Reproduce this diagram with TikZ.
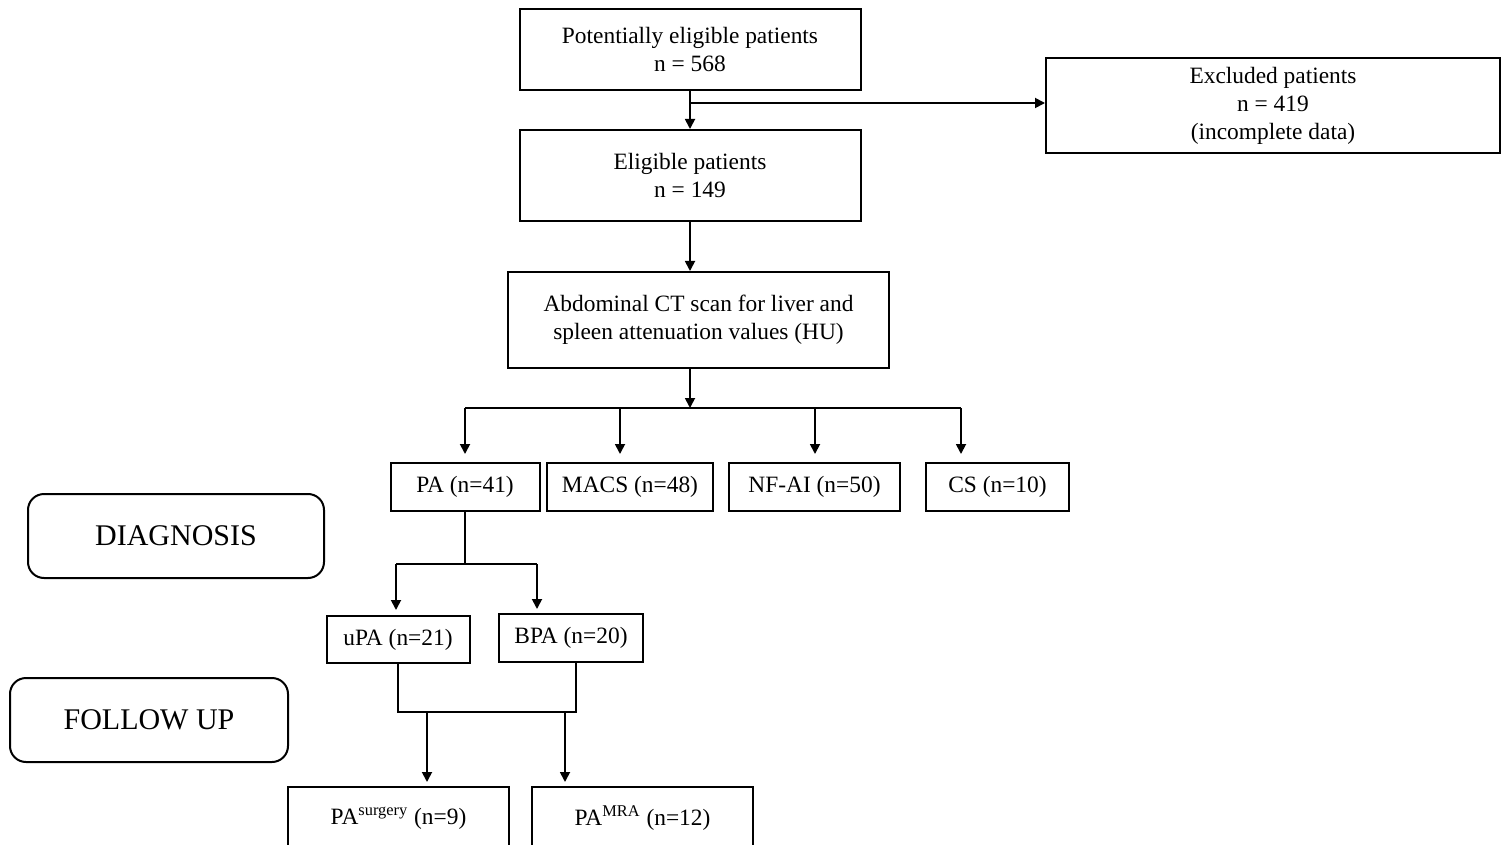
\documentclass[tikz,border=0pt]{standalone}
\usepackage{fontspec}
\setmainfont{Liberation Serif}
\usetikzlibrary{arrows.meta}

\begin{document}
\begin{tikzpicture}[
		x=0.5pt,
		y=-0.5pt,
		line/.style={line width=0.9pt},
		arr/.style={
			line width=0.9pt,
			-{Triangle[length=5pt,width=5pt]},
		},
		box/.style={
			shape=rectangle,
			draw,
			line width=1pt,
			inner sep=0pt,
			align=center,
			font=\fontsize{11.7}{14}\selectfont,
		},
		phase/.style={
			box,
			rounded corners=8pt,
			font=\fontsize{15}{18}\selectfont,
			minimum height=42pt,
		},
	]
		\clip (0,0) rectangle (1509,845);

		% main flow
		\node[box, minimum width=170.5pt, minimum height=40.5pt] (pot) at (690,49.5)
			{Potentially eligible patients\\n = 568};
		\node[box, minimum width=227pt, minimum height=47.5pt] (excl) at (1273,105.5)
			{Excluded patients\\n = 419\\(incomplete data)};
		\node[box, minimum width=170.5pt, minimum height=45.5pt] (elig) at (690,175.5)
			{Eligible patients\\n = 149};
		\node[box, minimum width=190.5pt, minimum height=48pt] (ct) at (698.5,320)
			{Abdominal CT scan for liver and\\spleen attenuation values (HU)};

		% diagnosis groups
		\node[box, minimum width=74.5pt, minimum height=24pt] (pa) at (465,487) {PA (n=41)};
		\node[box, minimum width=83pt, minimum height=24pt] (macs) at (630,487) {MACS (n=48)};
		\node[box, minimum width=85.5pt, minimum height=24pt] (nfai) at (814.5,487) {NF-AI (n=50)};
		\node[box, minimum width=71.5pt, minimum height=24pt] (cs) at (997.5,487) {CS (n=10)};

		\node[box, minimum width=71.5pt, minimum height=23.5pt] (upa) at (398,639.5) {uPA (n=21)};
		\node[box, minimum width=72pt, minimum height=24pt] (bpa) at (571,638) {BPA (n=20)};

		% follow up
		\node[box, minimum width=110.5pt, minimum height=31pt] (psur) at (398.5,818)
			{PA\textsuperscript{surgery} (n=9)};
		\node[box, minimum width=110.5pt, minimum height=31pt] (pmra) at (642.5,818)
			{PA\textsuperscript{MRA} (n=12)};

		% phase labels
		\node[phase, minimum width=148pt] (diag) at (176,536) {DIAGNOSIS};
		\node[phase, minimum width=139pt] (fup) at (149,720) {FOLLOW UP};

		% connectors
		\coordinate (split) at (690,103);
		\draw[arr] (pot) -- (elig);
		\draw[arr] (split) -- (excl.west |- split);
		\draw[arr] (elig.south) -- (elig.south |- ct.north);

		\coordinate (hub) at (690,408);
		\coordinate (hubL) at (465,408);
		\coordinate (hubR) at (961,408);
		\draw[arr] (ct.south -| hub) -- (hub);
		\draw[line] (hubL) -- (hubR);
		\foreach \x/\n in {465/pa,620/macs,815/nfai,961/cs}
			\draw[arr, shorten >=4pt] (hub -| \x,0) -- (\n.north -| \x,0);

		\coordinate (sL) at (396,564);
		\coordinate (sR) at (537,564);
		\draw[line] (pa.south) -- (pa.south |- sL);
		\draw[line] (sL) -- (sR);
		\draw[arr, shorten >=2.5pt] (sL) -- (upa.north -| sL);
		\draw[arr, shorten >=2pt] (sR) -- (bpa.north -| sR);

		\coordinate (jL) at (398,712);
		\coordinate (jR) at (576,712);
		\draw[line] (upa.south -| jL) -- (jL) -- (jR) -- (bpa.south -| jR);
		\draw[arr, shorten >=2pt] (jL -| 427,0) -- (psur.north -| 427,0);
		\draw[arr, shorten >=2pt] (jL -| 565,0) -- (pmra.north -| 565,0);
	\end{tikzpicture}
\end{document}
